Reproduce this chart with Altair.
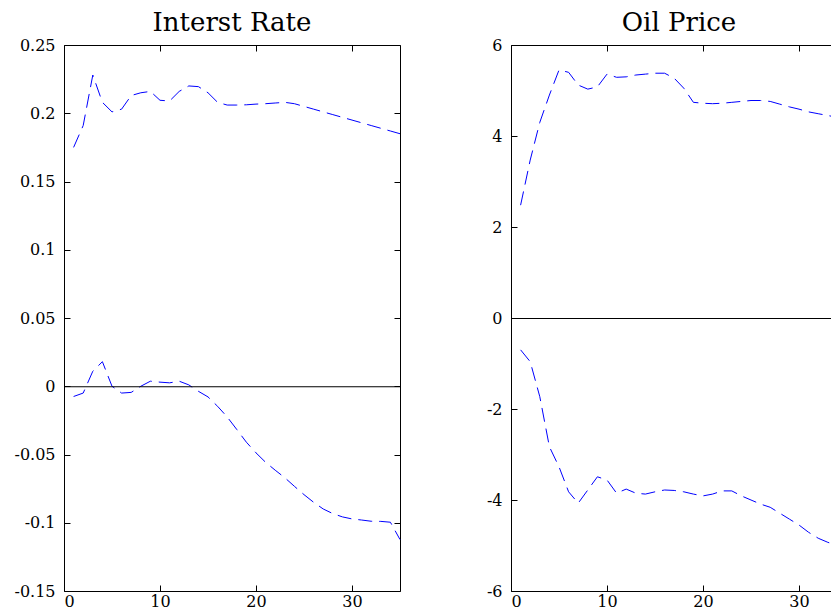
import altair as alt
import pandas as pd

t = list(range(1, 36))

ir_upper = [0.175, 0.191, 0.228, 0.208, 0.201, 0.203, 0.213, 0.215, 0.216, 0.2095,
            0.209, 0.216, 0.220, 0.2195, 0.215, 0.208, 0.206, 0.206, 0.2062, 0.2067,
            0.207, 0.2075, 0.208, 0.207, 0.205, 0.203, 0.201, 0.199, 0.197, 0.195,
            0.193, 0.191, 0.189, 0.187, 0.185]
ir_lower = [-0.0075, -0.005, 0.011, 0.018, 0.0, -0.005, -0.0045, 0.0, 0.0037, 0.003,
            0.0025, 0.0037, 0.001, -0.0037, -0.0078, -0.0147, -0.0225, -0.0317, -0.041, -0.0488,
            -0.0557, -0.0615, -0.067, -0.0733, -0.0794, -0.085, -0.0899, -0.0933, -0.0957, -0.0972,
            -0.098, -0.0989, -0.099, -0.0996, -0.1123]
oil_upper = [2.48, 3.47, 4.3, 4.9, 5.45, 5.4, 5.12, 5.03, 5.08, 5.36,
             5.29, 5.30, 5.34, 5.36, 5.38, 5.38, 5.27, 5.05, 4.74, 4.72,
             4.71, 4.72, 4.74, 4.76, 4.78, 4.78, 4.76, 4.70, 4.64, 4.59,
             4.53, 4.49, 4.45, 4.41, 4.38]
oil_lower = [-0.70, -0.96, -1.73, -2.83, -3.27, -3.82, -4.07, -3.78, -3.49, -3.56,
             -3.85, -3.76, -3.85, -3.87, -3.82, -3.78, -3.79, -3.82, -3.87, -3.91,
             -3.87, -3.80, -3.80, -3.91, -4.00, -4.09, -4.16, -4.29, -4.42, -4.55,
             -4.71, -4.84, -4.93, -5.00, -5.06]

titles = ["Interst Rate", "Oil Price"]
x_ticks = [0, 10, 20, 30]
ir_ticks = [-0.15, -0.1, -0.05, 0, 0.05, 0.1, 0.15, 0.2, 0.25]
oil_ticks = [-6, -4, -2, 0, 2, 4, 6]

FONT = "DejaVu Serif"
LABEL_EXPR = "datum.value < 0 ? '-' + format(-datum.value, '') : format(datum.value, '')"


def panel(title, upper, lower, ydom, yvals):
    df = pd.DataFrame({"t": t, "upper": upper, "lower": lower})
    zero_df = pd.DataFrame({"z": [0]})
    xs = alt.Scale(domain=[0, 35], nice=False, zero=False)
    ys = alt.Scale(domain=ydom, nice=False, zero=False)
    common = dict(domain=False, grid=False, title=None, tickColor="black",
                  tickSize=6, offset=-6, labelFont=FONT, labelFontSize=16,
                  labelColor="black")
    x_bottom = alt.Axis(orient="bottom", values=x_ticks, labelPadding=2,
                        labelExpr=LABEL_EXPR, **common)
    y_left = alt.Axis(orient="left", values=yvals, labelPadding=9,
                      labelExpr=LABEL_EXPR, **common)
    x_top = alt.Axis(orient="top", values=x_ticks, labels=False, **common)
    y_right = alt.Axis(orient="right", values=yvals, labels=False, **common)

    up = alt.Chart(df).mark_line(color="#0000FF", strokeWidth=1, strokeDash=[14, 7]).encode(
        x=alt.X("t:Q", scale=xs, axis=x_bottom),
        y=alt.Y("upper:Q", scale=ys, axis=y_left),
    )
    lo = alt.Chart(df).mark_line(color="#0000FF", strokeWidth=1, strokeDash=[14, 7]).encode(
        x=alt.X("t:Q", scale=xs, axis=x_top),
        y=alt.Y("lower:Q", scale=ys, axis=y_right),
    )
    zero = alt.Chart(zero_df).mark_rule(color="black", strokeWidth=1, yOffset=0.5).encode(
        y=alt.Y("z:Q", scale=ys, axis=None),
    )
    return alt.layer(up, lo, zero).resolve_axis(x="independent", y="independent").properties(
        width=336, height=546,
        title=alt.TitleParams(title, font=FONT, fontSize=26, fontWeight="normal",
                              color="black", frame="group", anchor="middle", offset=1),
    )


left = panel(titles[0], ir_upper, ir_lower, [-0.15, 0.25], ir_ticks)
right = panel(titles[1], oil_upper, oil_lower, [-6, 6], oil_ticks)

chart = alt.hconcat(left, right, spacing=82).properties(
    background="white",
    autosize=alt.AutoSizeParams(type="none"),
    padding={"left": 56, "top": 37, "right": 767, "bottom": 562},
).configure_view(stroke="black", strokeWidth=1)

chart.save("out.html", embed_options={"renderer": "svg", "actions": False})
